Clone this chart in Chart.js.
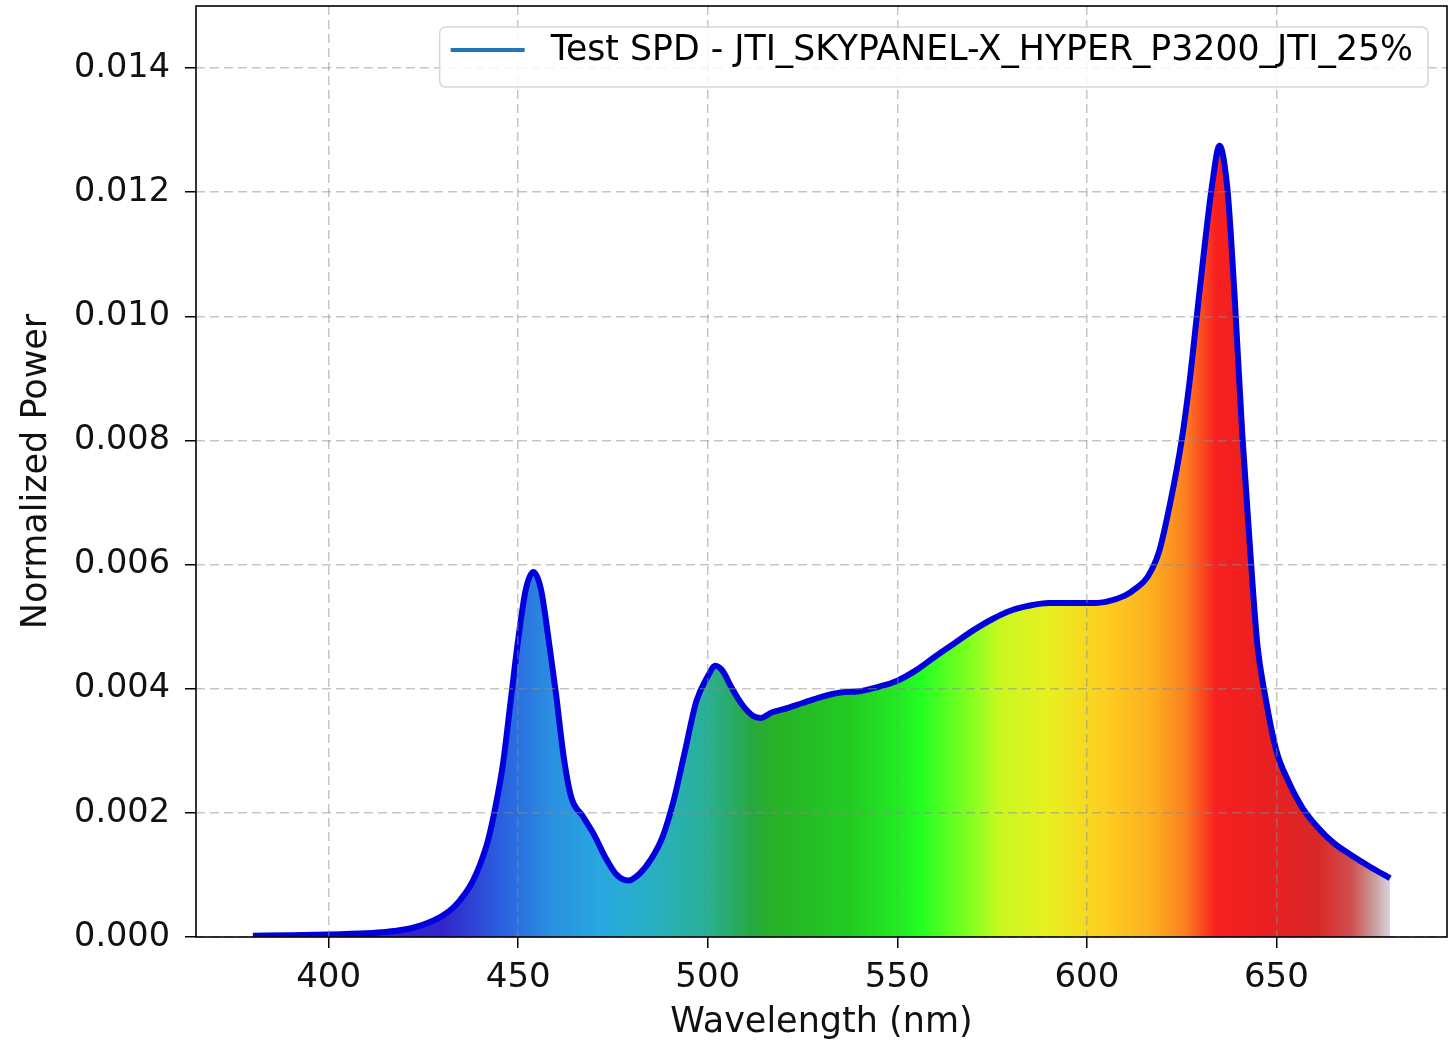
<!DOCTYPE html>
<html>
<head>
<meta charset="utf-8">
<script src="https://cdn.jsdelivr.net/npm/chart.js@4.4.0/dist/chart.umd.min.js"></script>
<style>
    html, body { margin: 0; padding: 0; background: #fff; }
</style>
</head>
<body>
<canvas id="cnv_spd_chart" width="1453" height="1044"></canvas>
<script>
// spectrum
const wavelengths = [
    380, 390, 400, 410, 415, 420, 425, 430, 433, 436, 438, 440, 442, 444, 446, 448,
    450, 452, 454, 456, 458, 460, 462, 464, 467, 470, 473, 476, 479, 482, 485, 488,
    491, 494, 497, 500, 502, 504, 506, 509, 512, 514, 517, 520, 525, 530, 535, 540,
    545, 550, 555, 560, 565, 570, 575, 580, 585, 590, 595, 600, 605, 610, 613, 616,
    619, 622, 625, 627, 629, 631, 633, 635, 637, 638, 639, 641, 643, 645, 647, 650,
    653, 657, 661, 665, 670, 675, 680
]
const power = [
    0.00002, 0.00003, 0.00004, 0.00006, 0.00008, 0.00012, 0.0002, 0.00034, 0.00048, 0.0007, 0.0009, 0.00118, 0.00155, 0.0021, 0.0028, 0.0038,
    0.0048, 0.0056, 0.00588, 0.0056, 0.0048, 0.0039, 0.0029, 0.00225, 0.00195, 0.00165, 0.00128, 0.001, 0.00091, 0.00102, 0.00125, 0.0016,
    0.0022, 0.003, 0.0038, 0.0042, 0.00437, 0.00428, 0.00405, 0.00375, 0.00356, 0.00353, 0.00362, 0.00367, 0.00377, 0.00387, 0.00394, 0.00396,
    0.00403, 0.00413, 0.0043, 0.00452, 0.00473, 0.00494, 0.00512, 0.00526, 0.00534, 0.00538, 0.00538, 0.00538, 0.0054, 0.0055, 0.00562, 0.0058,
    0.0062, 0.007, 0.008, 0.0089, 0.01, 0.0111, 0.0121, 0.01275, 0.0121, 0.0113, 0.0103, 0.0081, 0.0063, 0.0047, 0.0039, 0.003,
    0.00253, 0.00207, 0.00176, 0.00152, 0.00131, 0.00112, 0.00095
]
const xTicks = [400, 450, 500, 550, 600, 650]
const yTicks = [0, 0.002, 0.004, 0.006, 0.008, 0.010, 0.012, 0.014]
const seriesLabel = 'Test SPD - JTI_SKYPANEL-X_HYPER_P3200_JTI_25%'

// fill colours along the wavelength axis
const stopNm = [430, 446, 459, 472, 486, 499, 512, 517, 538, 552, 556, 569, 577, 590, 604, 617, 626, 634, 648, 661, 670, 676, 680]
const stopColor = ['#3424cc', '#2a62e0', '#2a90e0', '#28a8e0', '#28b0c0', '#28b098', '#28a840', '#28b028', '#22cc22', '#22f022',
    '#22ff22', '#80ff20', '#c8f820', '#e8f020', '#fcd020', '#fcb020', '#fc8020', '#f82020', '#e82020', '#d82828', '#d05050', '#c8a0a0', '#dcd4dc']

const FONT = 'DejaVu Sans'

const spectrumFill = (context) => {
    const { chart } = context
    if (!chart.chartArea) return null
    const xs = chart.scales.x
    const first = wavelengths[0], last = wavelengths[wavelengths.length - 1]
    const g = chart.ctx.createLinearGradient(xs.getPixelForValue(first), 0, xs.getPixelForValue(last), 0)
    g.addColorStop(0, stopColor[0])
    stopNm.forEach((nm, i) => g.addColorStop((nm - first) / (last - first), stopColor[i]))
    return g
}

// matplotlib-like frame + legend inside the axes
const framePlugin = {
    id: 'frame',
    afterDraw(chart) {
        const { ctx, chartArea } = chart
        ctx.save()
        ctx.strokeStyle = '#000'
        ctx.lineWidth = 1.6
        ctx.strokeRect(chartArea.left, chartArea.top, chartArea.right - chartArea.left, chartArea.bottom - chartArea.top)

        ctx.font = `34.7px "${FONT}"`
        const tw = ctx.measureText(seriesLabel).width
        const right = chartArea.right - 19
        const top = chartArea.top + 21
        const h = 60
        const w = tw + 111 + 15
        const left = right - w
        ctx.beginPath()
        ctx.roundRect(left, top, w, h, 6)
        ctx.fillStyle = 'rgba(255,255,255,0.85)'
        ctx.fill()
        ctx.strokeStyle = '#d6d6d6'
        ctx.lineWidth = 1.5
        ctx.stroke()

        ctx.beginPath()
        ctx.moveTo(left + 11, top + 23)
        ctx.lineTo(left + 85, top + 23)
        ctx.strokeStyle = '#1f77b4'
        ctx.lineWidth = 4
        ctx.stroke()

        ctx.fillStyle = '#000'
        ctx.textBaseline = 'middle'
        ctx.textAlign = 'left'
        ctx.fillText(seriesLabel, left + 111, top + 24)
        ctx.restore()
    }
}

const gridOpts = { color: 'rgba(140,140,140,0.5)', lineWidth: 1.5, z: 1, tickColor: '#000', tickLength: 11, tickWidth: 1.5 }
const borderOpts = { display: false, dash: [9, 5], z: 1 }

const ctx = document.getElementById('cnv_spd_chart').getContext('2d')
const spdChart = new Chart(ctx, {
    type: 'line',
    plugins: [framePlugin],
    data: {
        datasets: [{
            label: seriesLabel,
            data: wavelengths.map((nm, i) => ({ x: nm, y: power[i] })),
            borderColor: '#0000dd',
            borderWidth: 6,
            backgroundColor: spectrumFill,
            fill: 'origin',
            pointRadius: 0,
            cubicInterpolationMode: 'monotone'
        }]
    },
    options: {
        responsive: false,
        animation: false,
        devicePixelRatio: 1,
        layout: { padding: { left: 0, right: 6, top: 6, bottom: 0 } },
        plugins: {
            legend: { display: false },
            tooltip: { enabled: false }
        },
        scales: {
            x: {
                type: 'linear',
                min: 365,
                max: 695,
                afterFit: (scale) => { scale.height = 107; scale.paddingLeft = 0; scale.paddingRight = 0 },
                afterBuildTicks: (scale) => { scale.ticks = xTicks.map(v => ({ value: v })) },
                grid: gridOpts,
                border: borderOpts,
                ticks: { color: '#111', font: { family: FONT, size: 34 }, padding: 10, maxRotation: 0 },
                title: { display: true, text: 'Wavelength (nm)', color: '#111', font: { family: FONT, size: 35 }, padding: { top: 0, bottom: 0 } }
            },
            y: {
                type: 'linear',
                min: 0,
                max: 0.015,
                afterFit: (scale) => { scale.width = 196; scale.paddingTop = 0; scale.paddingBottom = 0 },
                afterBuildTicks: (scale) => { scale.ticks = yTicks.map(v => ({ value: v })) },
                grid: gridOpts,
                border: borderOpts,
                ticks: { color: '#111', font: { family: FONT, size: 33.5 }, padding: 15, callback: (v) => v.toFixed(3) },
                title: { display: true, text: 'Normalized Power', color: '#111', font: { family: FONT, size: 35 }, padding: { top: 16, bottom: 0 } }
            }
        }
    }
})
</script>
</body>
</html>
